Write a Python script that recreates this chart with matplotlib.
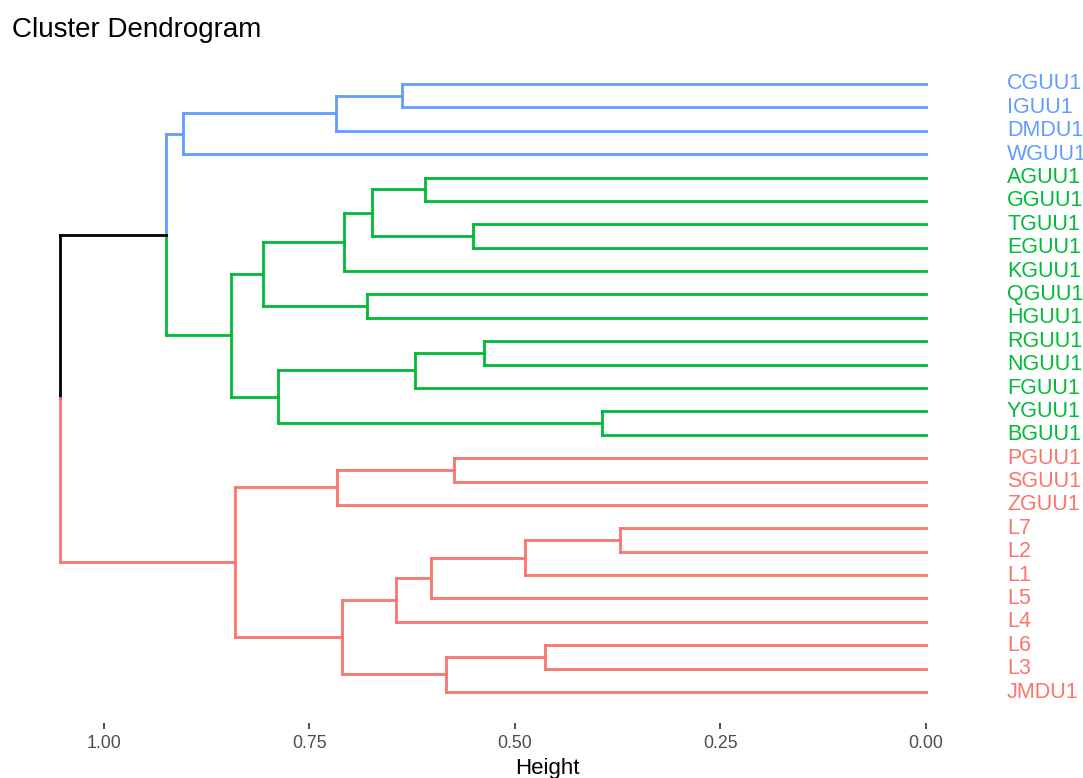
import matplotlib
matplotlib.use("Agg")
import matplotlib.pyplot as plt
from matplotlib.collections import LineCollection

# ---- data ----
leaf_labels = ["CGUU1", "IGUU1", "DMDU1", "WGUU1", "AGUU1", "GGUU1", "TGUU1",
               "EGUU1", "KGUU1", "QGUU1", "HGUU1", "RGUU1", "NGUU1", "FGUU1",
               "YGUU1", "BGUU1", "PGUU1", "SGUU1", "ZGUU1", "L7", "L2", "L1",
               "L5", "L4", "L6", "L3", "JMDU1"]
leaf_cluster = [0, 0, 0, 0, 1, 1, 1, 1, 1, 1, 1, 1, 1, 1, 1, 1,
                2, 2, 2, 2, 2, 2, 2, 2, 2, 2, 2]
cluster_colors = ["#619CFF", "#00BA38", "#F8766D"]

# merges: (node name, left child, right child, height)
merge_names = ["m1", "m2", "m3", "m4", "m5", "m6", "m7", "m8", "m9", "m10",
               "m11", "m12", "m13", "m14", "m15", "m16", "m17", "m18", "m19",
               "m20", "m21", "m22", "m23", "m24", "m25", "m26"]
merge_left = ["L7", "YGUU1", "L6", "m1", "RGUU1", "TGUU1", "PGUU1", "m3", "m4",
              "AGUU1", "m5", "CGUU1", "m9", "m10", "QGUU1", "m14", "m13", "m7",
              "m12", "m11", "m16", "m18", "m21", "m19", "m24", "m25"]
merge_right = ["L2", "BGUU1", "L3", "L1", "NGUU1", "EGUU1", "SGUU1", "JMDU1",
               "L5", "GGUU1", "FGUU1", "IGUU1", "L4", "m6", "HGUU1", "KGUU1",
               "m8", "ZGUU1", "DMDU1", "m2", "m15", "m17", "m20", "WGUU1",
               "m23", "m22"]
merge_height = [0.3715, 0.394, 0.463, 0.487, 0.538, 0.551, 0.574, 0.584, 0.602,
                0.609, 0.621, 0.637, 0.6445, 0.674, 0.680, 0.7075, 0.710, 0.716,
                0.718, 0.788, 0.807, 0.841, 0.845, 0.904, 0.925, 1.053]
x_ticks = [1.00, 0.75, 0.50, 0.25, 0.00]
x_tick_labels = ["1.00", "0.75", "0.50", "0.25", "0.00"]

# ---- build tree positions ----
node_h = {}
node_y = {}
node_col = {}
for i, lab in enumerate(leaf_labels):
    node_h[lab] = 0.0
    node_y[lab] = float(i)
    node_col[lab] = leaf_cluster[i]

segs = []
cols = []
for name, l, r, h in zip(merge_names, merge_left, merge_right, merge_height):
    yn = (node_y[l] + node_y[r]) / 2.0
    node_h[name] = h
    node_y[name] = yn
    node_col[name] = node_col[l] if node_col[l] == node_col[r] else -1
    for c in (l, r):
        col = "black" if node_col[c] == -1 else cluster_colors[node_col[c]]
        segs.append([(h, yn), (h, node_y[c])])
        cols.append(col)
        segs.append([(h, node_y[c]), (node_h[c], node_y[c])])
        cols.append(col)

# ---- figure ----
W, H = 1083, 778
fig = plt.figure(figsize=(W / 100, H / 100), dpi=100)
font = "Liberation Sans"
plt.rcParams["font.family"] = [font, "DejaVu Sans"]

ax = fig.add_axes([10 / W, (H - 723) / H, (W - 10) / W, (723 - 60) / H])
lc = LineCollection(segs, colors=cols, linewidths=2.0, capstyle="projecting")
ax.add_collection(lc)

ax.set_xlim((925.5 - 10) / 821.5, (925.5 - 1083) / 821.5)
ax.set_ylim(27.325, -1.026)

label_x = (925.5 - 1007) / 821.5
for i, lab in enumerate(leaf_labels):
    ax.text(label_x, i, lab, color=cluster_colors[leaf_cluster[i]],
            fontsize=15.5, ha="left", va="center", clip_on=True)

for s in ax.spines.values():
    s.set_visible(False)
ax.set_yticks([])
ax.set_xticks(x_ticks)
ax.set_xticklabels(x_tick_labels)
ax.tick_params(axis="x", direction="out", length=4.3, width=1.2,
               color="#333333", labelcolor="#4D4D4D", labelsize=12.8, pad=4)
ax.set_facecolor("white")

fig.text(12 / W, (H - 36.7) / H, "Cluster Dendrogram", fontsize=20,
         ha="left", va="baseline", color="black")
fig.text(547 / W, (H - 774) / H, "Height", fontsize=16,
         ha="center", va="baseline", color="black")

fig.savefig("out.png", dpi=100, facecolor="white")
